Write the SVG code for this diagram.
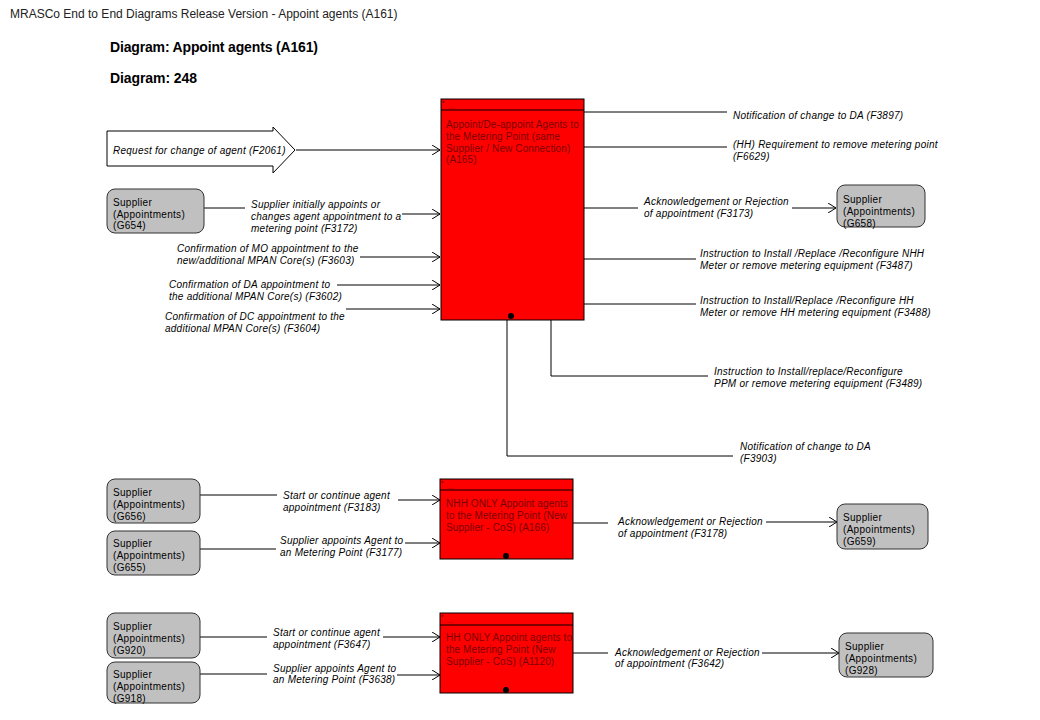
<svg xmlns="http://www.w3.org/2000/svg" width="1040" height="720" viewBox="0 0 1040 720">
<defs>
<marker id="arr" markerUnits="userSpaceOnUse" viewBox="0 0 8 10" refX="8" refY="5" markerWidth="8" markerHeight="10" orient="auto">
<path d="M0,0 L8,5 L0,10" fill="none" stroke="#000" stroke-width="1"/>
</marker>
<style>
text{font-family:"Liberation Sans",Arial,sans-serif;}
.ttl{font-size:12px;fill:#222;}
.hdr{font-size:14px;font-weight:bold;fill:#000;}
.lbl{font-size:10px;font-style:italic;fill:#000;letter-spacing:0.25px;}
.sup{font-size:10px;fill:#000;letter-spacing:0.3px;}
.prc{font-size:10px;fill:#7a0000;letter-spacing:0.1px;}
.tiny{font-size:6px;fill:#400000;}
.box{fill:#ff0000;stroke:#000;stroke-width:1;}
.ext{fill:#c0c0c0;stroke:#333;stroke-width:1;}
.ln{fill:none;stroke:#000;stroke-width:1;}
.la{fill:none;stroke:#000;stroke-width:1;marker-end:url(#arr);}
</style>
</defs>
<rect width="1040" height="720" fill="#fff"/>
<text class="ttl" x="10" y="18">MRASCo End to End Diagrams Release Version - Appoint agents (A161)</text>
<text class="hdr" x="110" y="52" textLength="208">Diagram: Appoint agents (A161)</text>
<text class="hdr" x="110" y="83" textLength="87">Diagram: 248</text>

<g id="F2061-arrow">
<polygon points="107,131 273,131 273,127 295,150 273,173 273,166 107,166" fill="#fff" stroke="#000" stroke-width="1"/>
</g>

<g id="connectors">
<line class="la" x1="296" y1="150" x2="440" y2="150"/>
<line class="ln" x1="204" y1="208" x2="245" y2="208"/>
<line class="la" x1="402" y1="214" x2="440" y2="214"/>
<line class="la" x1="360" y1="257" x2="440" y2="257"/>
<line class="la" x1="337" y1="285" x2="440" y2="285"/>
<line class="la" x1="346" y1="309" x2="440" y2="309"/>
<line class="ln" x1="584" y1="112" x2="727" y2="112"/>
<line class="ln" x1="584" y1="147" x2="727" y2="147"/>
<line class="ln" x1="584" y1="208" x2="638" y2="208"/>
<line class="la" x1="792" y1="208" x2="836" y2="208"/>
<line class="ln" x1="584" y1="259" x2="696" y2="259"/>
<line class="ln" x1="584" y1="304" x2="696" y2="304"/>
<polyline class="ln" points="551,320 551,376 708,376"/>
<polyline class="ln" points="507,320 507,456 733,456"/>
<line class="ln" x1="200" y1="495" x2="277" y2="495"/>
<line class="la" x1="398" y1="500" x2="440" y2="500"/>
<line class="ln" x1="200" y1="549" x2="276" y2="549"/>
<line class="la" x1="405" y1="543" x2="440" y2="543"/>
<line class="ln" x1="573" y1="523" x2="608" y2="523"/>
<line class="la" x1="766" y1="522" x2="837" y2="522"/>
<line class="ln" x1="200" y1="637" x2="267" y2="637"/>
<line class="la" x1="383" y1="637" x2="440" y2="637"/>
<line class="ln" x1="200" y1="674" x2="267" y2="674"/>
<line class="la" x1="397" y1="675" x2="440" y2="675"/>
<line class="ln" x1="573" y1="653" x2="608" y2="653"/>
<line class="la" x1="762" y1="653" x2="839" y2="653"/>
</g>

<g id="labels">
<text class="lbl" x="113" y="153.5">Request for change of agent  (F2061)</text>
<text class="lbl" x="251" y="207.5">Supplier initially appoints or</text>
<text class="lbl" x="251" y="219.5">changes agent appointment to a</text>
<text class="lbl" x="251" y="231.5">metering point  (F3172)</text>
<text class="lbl" x="177" y="251.5">Confirmation of MO appointment to the</text>
<text class="lbl" x="177" y="263.5">new/additional MPAN Core(s) (F3603)</text>
<text class="lbl" x="169" y="287.5">Confirmation of DA appointment to</text>
<text class="lbl" x="169" y="300">the additional MPAN Core(s) (F3602)</text>
<text class="lbl" x="165" y="319.5">Confirmation of DC appointment to the</text>
<text class="lbl" x="165" y="331.5">additional MPAN Core(s) (F3604)</text>
<text class="lbl" x="733" y="119">Notification of change to DA  (F3897)</text>
<text class="lbl" x="733" y="147.5">(HH) Requirement to remove metering point</text>
<text class="lbl" x="733" y="159.5">(F6629)</text>
<text class="lbl" x="644" y="204.5">Acknowledgement or Rejection</text>
<text class="lbl" x="644" y="216.5">of appointment  (F3173)</text>
<text class="lbl" x="700" y="256.5">Instruction to Install /Replace /Reconfigure NHH</text>
<text class="lbl" x="700" y="268.5">Meter or remove metering equipment  (F3487)</text>
<text class="lbl" x="700" y="303.5">Instruction to Install/Replace /Reconfigure HH</text>
<text class="lbl" x="700" y="315.5">Meter or remove HH metering equipment  (F3488)</text>
<text class="lbl" x="714" y="374.5">Instruction to Install/replace/Reconfigure</text>
<text class="lbl" x="714" y="386.5">PPM or remove metering equipment  (F3489)</text>
<text class="lbl" x="740" y="449.5">Notification of change to DA</text>
<text class="lbl" x="740" y="461.5">(F3903)</text>
<text class="lbl" x="283" y="498.5">Start or continue agent</text>
<text class="lbl" x="283" y="510.5">appointment  (F3183)</text>
<text class="lbl" x="280" y="543.5">Supplier appoints Agent to</text>
<text class="lbl" x="280" y="555.5">an Metering Point  (F3177)</text>
<text class="lbl" x="618" y="525">Acknowledgement or Rejection</text>
<text class="lbl" x="618" y="537">of appointment  (F3178)</text>
<text class="lbl" x="273" y="635.5">Start or continue agent</text>
<text class="lbl" x="273" y="647.5">appointment  (F3647)</text>
<text class="lbl" x="273" y="671.5">Supplier appoints Agent to</text>
<text class="lbl" x="273" y="683">an Metering Point  (F3638)</text>
<text class="lbl" x="615" y="655.5">Acknowledgement or Rejection</text>
<text class="lbl" x="615" y="667">of appointment  (F3642)</text>
</g>

<g id="A165">
<rect class="box" x="441" y="99" width="143" height="221"/>
<line class="ln" x1="441" y1="110" x2="584" y2="110"/>
<text class="tiny" x="442" y="105">*</text>
<text class="tiny" x="448" y="109">....</text>
<text class="prc" x="446" y="128">Appoint/De-appoint Agents to</text>
<text class="prc" x="446" y="140">the Metering Point (same</text>
<text class="prc" x="446" y="152">Supplier / New Connection)</text>
<text class="prc" x="446" y="163">(A165)</text>
<circle cx="511" cy="316" r="3" fill="#000"/>
</g>

<g id="A166">
<rect class="box" x="440" y="479" width="133" height="80"/>
<line class="ln" x1="440" y1="490" x2="573" y2="490"/>
<text class="tiny" x="441" y="485">*</text>
<text class="tiny" x="447" y="489">....</text>
<text class="prc" x="446" y="507">NHH ONLY Appoint agents</text>
<text class="prc" x="446" y="519">to the Metering Point (New</text>
<text class="prc" x="446" y="531">Supplier - CoS) (A166)</text>
<circle cx="506" cy="556" r="3" fill="#000"/>
</g>

<g id="A1120">
<rect class="box" x="440" y="613" width="133" height="80"/>
<line class="ln" x1="440" y1="625" x2="573" y2="625"/>
<text class="tiny" x="441" y="619">*</text>
<text class="tiny" x="447" y="623">....</text>
<text class="prc" x="446" y="641">HH ONLY Appoint agents to</text>
<text class="prc" x="446" y="653">the Metering Point (New</text>
<text class="prc" x="446" y="665">Supplier - CoS) (A1120)</text>
<circle cx="506" cy="690" r="3" fill="#000"/>
</g>

<g id="G654">
<rect class="ext" x="107" y="189" width="97" height="44" rx="8"/>
<text class="sup" x="113" y="206">Supplier</text>
<text class="sup" x="113" y="217.5">(Appointments)</text>
<text class="sup" x="113" y="229">(G654)</text>
</g>
<g id="G658">
<rect class="ext" x="837" y="185" width="88" height="42" rx="8"/>
<text class="sup" x="843" y="203">Supplier</text>
<text class="sup" x="843" y="215">(Appointments)</text>
<text class="sup" x="843" y="227">(G658)</text>
</g>
<g id="G656">
<rect class="ext" x="107" y="479" width="93" height="44" rx="8"/>
<text class="sup" x="113" y="495.5">Supplier</text>
<text class="sup" x="113" y="507.5">(Appointments)</text>
<text class="sup" x="113" y="519.5">(G656)</text>
</g>
<g id="G655">
<rect class="ext" x="107" y="531" width="93" height="44" rx="8"/>
<text class="sup" x="113" y="546.5">Supplier</text>
<text class="sup" x="113" y="558.5">(Appointments)</text>
<text class="sup" x="113" y="570.5">(G655)</text>
</g>
<g id="G659">
<rect class="ext" x="837" y="504" width="91" height="45" rx="8"/>
<text class="sup" x="843" y="521">Supplier</text>
<text class="sup" x="843" y="533">(Appointments)</text>
<text class="sup" x="843" y="545">(G659)</text>
</g>
<g id="G920">
<rect class="ext" x="107" y="613" width="93" height="45" rx="8"/>
<text class="sup" x="113" y="630">Supplier</text>
<text class="sup" x="113" y="642">(Appointments)</text>
<text class="sup" x="113" y="654">(G920)</text>
</g>
<g id="G918">
<rect class="ext" x="107" y="662" width="93" height="41" rx="8"/>
<text class="sup" x="113" y="678">Supplier</text>
<text class="sup" x="113" y="690">(Appointments)</text>
<text class="sup" x="113" y="702">(G918)</text>
</g>
<g id="G928">
<rect class="ext" x="839" y="633" width="94" height="44" rx="8"/>
<text class="sup" x="845" y="650">Supplier</text>
<text class="sup" x="845" y="662">(Appointments)</text>
<text class="sup" x="845" y="674">(G928)</text>
</g>
</svg>
